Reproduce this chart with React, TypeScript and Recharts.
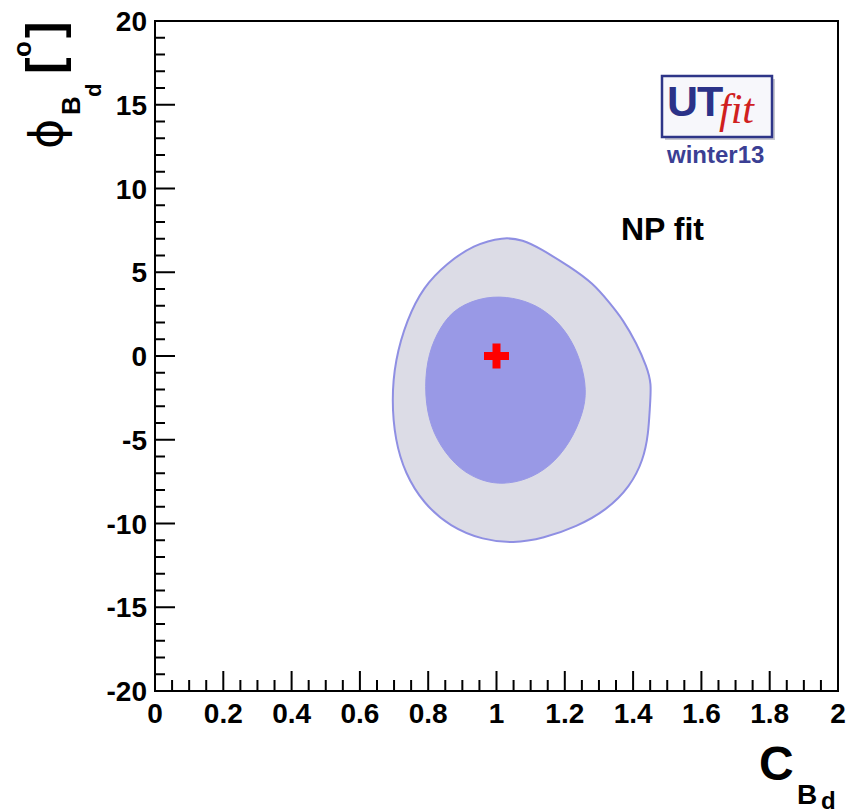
import React from "react";
import {
  ScatterChart,
  Scatter,
  XAxis,
  YAxis,
  ReferenceArea,
} from "recharts";

// contour points (C_Bd, phi_Bd in degrees)
const OUTER_C = [1.02, 0.932, 0.854, 0.786, 0.737, 0.703, 0.693, 0.703, 0.732, 0.786, 0.864, 0.961, 1.049, 1.137, 1.235, 1.323, 1.391, 1.43, 1.445, 1.449, 1.454, 1.44, 1.41, 1.371, 1.332, 1.283, 1.215, 1.127, 1.078];
const OUTER_PHI = [7.12, 6.63, 5.53, 4.14, 2.15, -0.24, -2.63, -5.01, -7.0, -8.8, -10.19, -10.99, -11.18, -10.89, -10.19, -9.19, -7.8, -6.21, -4.61, -3.03, -1.63, -0.64, 0.76, 2.15, 3.15, 4.34, 5.33, 6.43, 6.93];

const INNER_C = [0.971, 0.883, 0.835, 0.8, 0.789, 0.8, 0.835, 0.893, 0.961, 1.02, 1.088, 1.157, 1.215, 1.254, 1.264, 1.249, 1.22, 1.176, 1.118, 1.049];
const INNER_PHI = [3.58, 2.94, 1.75, 0.16, -1.83, -3.82, -5.41, -6.81, -7.5, -7.66, -7.4, -6.61, -5.21, -3.42, -2.03, -0.44, 0.96, 2.15, 3.04, 3.5];

const BEST_C = [1];
const BEST_PHI = [0];

const X_TICKS = [0, 0.05, 0.1, 0.15, 0.2, 0.25, 0.3, 0.35, 0.4, 0.45, 0.5, 0.55, 0.6, 0.65, 0.7, 0.75, 0.8, 0.85, 0.9, 0.95, 1, 1.05, 1.1, 1.15, 1.2, 1.25, 1.3, 1.35, 1.4, 1.45, 1.5, 1.55, 1.6, 1.65, 1.7, 1.75, 1.8, 1.85, 1.9, 1.95, 2];
const Y_TICKS = [-20, -19, -18, -17, -16, -15, -14, -13, -12, -11, -10, -9, -8, -7, -6, -5, -4, -3, -2, -1, 0, 1, 2, 3, 4, 5, 6, 7, 8, 9, 10, 11, 12, 13, 14, 15, 16, 17, 18, 19, 20];

const FONT = "'Liberation Sans', Arial, Helvetica, sans-serif";

const toPoints = (xs: number[], ys: number[]) => xs.map((x, i) => ({ x, y: ys[i] }));

const outerData = toPoints(OUTER_C, OUTER_PHI);
const innerData = toPoints(INNER_C, INNER_PHI);
const bestData = toPoints(BEST_C, BEST_PHI);

const noShape = () => <g />;

// red plus marker, ~25px across with 8px arms
function BestCross(props: any) {
  const { cx, cy } = props;
  const a = 12.5;
  const t = 4;
  const d = `M${cx - t},${cy - a}H${cx + t}V${cy - t}H${cx + a}V${cy + t}H${cx + t}V${cy + a}H${cx - t}V${cy + t}H${cx - a}V${cy - t}H${cx - t}Z`;
  return <path d={d} fill="#ff0000" />;
}

function XTick(props: any) {
  const { x, y, payload } = props;
  const v = payload.value as number;
  const major = Math.abs(v * 5 - Math.round(v * 5)) < 1e-6;
  return (
    <g>
      <line x1={x} x2={x} y1={y} y2={y - (major ? 20 : 11)} stroke="#000" strokeWidth={2} />
      {major && (
        <text x={x} y={y + 32} textAnchor="middle" fontFamily={FONT} fontWeight="bold" fontSize={28} fill="#000">
          {String(v)}
        </text>
      )}
    </g>
  );
}

function YTick(props: any) {
  const { x, y, payload } = props;
  const v = payload.value as number;
  const major = v % 5 === 0;
  return (
    <g>
      <line x1={x} x2={x + (major ? 20 : 10)} y1={y} y2={y} stroke="#000" strokeWidth={2} />
      {major && (
        <text x={x - 8} y={y + 10} textAnchor="end" fontFamily={FONT} fontWeight="bold" fontSize={28} fill="#000">
          {String(v)}
        </text>
      )}
    </g>
  );
}

function Overlay() {
  return (
    <svg
      width={850}
      height={810}
      style={{ position: "absolute", left: 0, top: 0, pointerEvents: "none" }}
    >
      {/* y label: phi_{B_d} [o] */}
      <text transform="translate(62,149) rotate(-90)" fontFamily="'DejaVu Sans', sans-serif" fontSize={46} fill="#000">ϕ</text>
      <text transform="translate(80,115) rotate(-90)" fontFamily={FONT} fontWeight="bold" fontSize={26} fill="#000">B</text>
      <text transform="translate(101,97) rotate(-90)" fontFamily={FONT} fontWeight="bold" fontSize={22} fill="#000">d</text>
      <text transform="translate(61,74) rotate(-90)" fontFamily={FONT} fontWeight="bold" fontSize={50} fill="#000">[</text>
      <text transform="translate(31,57) rotate(-90)" fontFamily={FONT} fontWeight="bold" fontSize={26} fill="#000">o</text>
      <text transform="translate(61,38) rotate(-90)" fontFamily={FONT} fontWeight="bold" fontSize={50} fill="#000">]</text>

      {/* x label: C_{B_d} */}
      <text x={759} y={780} fontFamily={FONT} fontWeight="bold" fontSize={48} fill="#000">C</text>
      <text x={797} y={804} fontFamily={FONT} fontWeight="bold" fontSize={28} fill="#000">B</text>
      <text x={821} y={809} fontFamily={FONT} fontWeight="bold" fontSize={24} fill="#000">d</text>

      {/* NP fit */}
      <text x={621} y={240} fontFamily={FONT} fontWeight="bold" fontSize={32} fill="#000">NP fit</text>

      {/* UTfit logo */}
      <rect x={665} y={79} width={110} height={61} fill="#c8c8d0" />
      <rect x={662} y={76} width={110} height={61} fill="#f7f7fb" stroke="#2e3588" strokeWidth={2.5} />
      <text x={667} y={116} fontFamily={FONT} fontWeight="bold" fontSize={43} fill="#2b3288" letterSpacing={-1}>UT</text>
      <text x={719} y={123} fontFamily="'Liberation Serif', 'Times New Roman', serif" fontStyle="italic" fontSize={42} fill="#d0201e">fit</text>
      <text x={667} y={163} fontFamily={FONT} fontWeight="bold" fontSize={24} fill="#3b3f94">winter13</text>
    </svg>
  );
}

export default function App() {
  return (
    <div style={{ position: "absolute", left: 0, top: 0, width: 850, height: 810, background: "#fff" }}>
      <ScatterChart width={850} height={810} margin={{ top: 21, right: 12, bottom: 89, left: 95 }}>
        <XAxis
          type="number"
          dataKey="x"
          domain={[0, 2]}
          ticks={X_TICKS}
          interval={0}
          height={30}
          tickSize={0}
          tickMargin={0}
          tickLine={false}
          axisLine={false}
          tick={<XTick />}
          allowDataOverflow
        />
        <YAxis
          type="number"
          dataKey="y"
          domain={[-20, 20]}
          ticks={Y_TICKS}
          interval={0}
          width={60}
          tickSize={0}
          tickMargin={0}
          tickLine={false}
          axisLine={false}
          tick={<YTick />}
          allowDataOverflow
        />

        {/* 95% region */}
        <Scatter
          data={outerData}
          isAnimationActive={false}
          shape={noShape}
          line={{ fill: "#dcdce6", stroke: "#8f8fe3", strokeWidth: 2 }}
          lineType="joint"
          lineJointType="basisClosed"
        />
        {/* 68% region */}
        <Scatter
          data={innerData}
          isAnimationActive={false}
          shape={noShape}
          line={{ fill: "#9999e6", stroke: "#9999e6", strokeWidth: 1 }}
          lineType="joint"
          lineJointType="basisClosed"
        />
        {/* best fit */}
        <Scatter data={bestData} isAnimationActive={false} shape={<BestCross />} />

        <ReferenceArea x1={0} x2={2} y1={-20} y2={20} fill="none" stroke="#000" strokeWidth={2} />
      </ScatterChart>
      <Overlay />
    </div>
  );
}
